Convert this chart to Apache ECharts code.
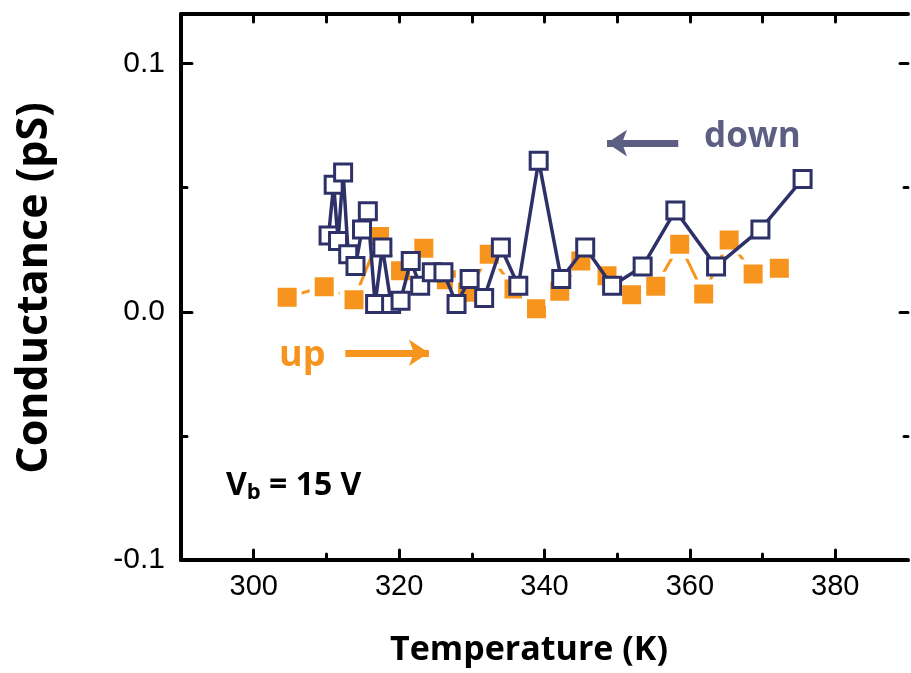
<!DOCTYPE html>
<html>
<head>
<meta charset="utf-8">
<script src="https://cdn.jsdelivr.net/npm/echarts@6/dist/echarts.min.js"></script>
<style>
  html, body { margin: 0; padding: 0; background: #fff; }
  #chart { width: 911px; height: 673px; }
</style>
</head>
<body>
<div id="chart"></div>
<script>
// heating sweep (orange, filled squares)
const upTemp = [304.6, 309.7, 313.8, 317.3, 320.2, 323.4, 326.5, 329.4, 332.4, 335.8, 338.9,
  342.1, 345.0, 348.6, 352.0, 355.3, 358.6, 361.9, 365.4, 368.7, 372.3];
const upCond = [0.0059, 0.0101, 0.0049, 0.0303, 0.0165, 0.0256, 0.0129, 0.0079, 0.0232, 0.0092, 0.0012,
  0.0083, 0.0205, 0.0145, 0.0069, 0.0103, 0.0272, 0.0072, 0.0289, 0.0152, 0.0176];

// cooling sweep (navy, open squares)
const downTemp = [310.3, 311.0, 311.6, 312.3, 313.0, 314.0, 314.9, 315.7, 316.7, 317.7, 318.9,
  320.2, 321.6, 322.9, 324.5, 326.1, 327.9, 329.7, 331.7, 334.0, 336.4, 339.2,
  342.3, 345.6, 349.3, 353.5, 358.0, 363.6, 369.7, 375.5];
const downCond = [0.0308, 0.0512, 0.0285, 0.0561, 0.0232, 0.0185, 0.0332, 0.0405, 0.0032, 0.0259, 0.0032,
  0.0045, 0.0205, 0.0105, 0.0159, 0.0159, 0.0032, 0.0132, 0.0056, 0.0259, 0.0105, 0.0609,
  0.0132, 0.0259, 0.0105, 0.0183, 0.0408, 0.0183, 0.0332, 0.0535];

const xMajorTicks = [300, 320, 340, 360, 380];
const xMinorTicks = [310, 330, 350, 370];
const xTopTicks = [300, 310, 320, 330, 340, 350, 360, 370, 380];
const yMajorTicks = [-0.1, 0, 0.1];
const yMinorTicks = [-0.05, 0.05];

const ORANGE = '#f7941d';
const NAVY = '#2e3168';
const SLATE = '#5c5f82';

const chart = echarts.init(document.getElementById('chart'));

const upData = upTemp.map((t, i) => [t, upCond[i]]);
const downData = downTemp.map((t, i) => [t, downCond[i]]);

const tickLine = { color: '#000', width: 3, cap: 'round' };
const near = (v, list) => list.some(t => Math.abs(t - v) < 1e-6);

// one axis that only carries ticks at given values
function tickAxis(pos, min, max, values, len) {
  return {
    type: 'value', min: min, max: max, position: pos,
    splitLine: { show: false },
    axisLine: { show: false, onZero: false },
    axisTick: { show: true, inside: true, length: len, customValues: values, lineStyle: tickLine },
    axisLabel: { show: false }
  };
}

const option = {
  animation: false,
  grid: { left: 181, right: -8, top: 14, bottom: 113, containLabel: false },
  xAxis: [
    {
      // labels only: every 10 K from 290, text kept at the major ticks
      type: 'value', min: 290, max: 390, interval: 10, position: 'bottom',
      splitLine: { show: false },
      axisLine: { show: true, onZero: false, lineStyle: { color: '#000', width: 4 } },
      axisTick: { show: false },
      axisLabel: {
        margin: 12,
        fontFamily: '"Liberation Sans Narrow", "Liberation Sans", Arial, sans-serif',
        fontSize: 29, color: '#000',
        formatter: v => near(v, xMajorTicks) ? String(v) : ''
      }
    },
    tickAxis('bottom', 290, 390, xMajorTicks, 10),
    tickAxis('bottom', 290, 390, xMinorTicks, 6),
    {
      type: 'value', min: 290, max: 390, position: 'top',
      splitLine: { show: false },
      axisLine: { show: true, onZero: false, lineStyle: { color: '#000', width: 4 } },
      axisTick: { show: true, inside: true, length: 8, customValues: xTopTicks, lineStyle: tickLine },
      axisLabel: { show: false }
    }
  ],
  yAxis: [
    {
      type: 'value', min: -0.1, max: 0.12, interval: 0.05, position: 'left',
      splitLine: { show: false },
      axisLine: { show: true, onZero: false, lineStyle: { color: '#000', width: 4 } },
      axisTick: { show: false },
      axisLabel: {
        margin: 16,
        fontFamily: '"Liberation Sans", Arial, sans-serif',
        fontSize: 30, color: '#000',
        showMaxLabel: false,
        formatter: v => near(v, yMajorTicks) ? v.toFixed(1) : ''
      }
    },
    tickAxis('left', -0.1, 0.12, yMajorTicks, 11),
    tickAxis('left', -0.1, 0.12, yMinorTicks, 6),
    tickAxis('right', -0.1, 0.12, yMajorTicks, 8),
    tickAxis('right', -0.1, 0.12, yMinorTicks, 4)
  ],
  series: [
    {
      // orange line, broken near the markers by the white rim of the squares
      name: 'up', type: 'line', data: upData,
      symbol: 'rect', symbolSize: 24,
      itemStyle: { color: ORANGE, borderColor: '#fff', borderWidth: 5 },
      lineStyle: { color: ORANGE, width: 3 },
      z: 2,
      markLine: {
        silent: true,
        symbol: ['none', 'arrow'], symbolSize: [20, 20],
        lineStyle: { color: ORANGE, width: 7, type: 'solid' },
        label: { show: false },
        data: [[{ coord: [312.6, -0.0165] }, { coord: [324.1, -0.0165] }]]
      }
    },
    {
      name: 'down', type: 'line', data: downData,
      symbol: 'rect', symbolSize: 17,
      itemStyle: { color: '#fff', borderColor: NAVY, borderWidth: 3 },
      lineStyle: { color: NAVY, width: 3.5 },
      z: 3,
      markLine: {
        silent: true,
        symbol: ['none', 'arrow'], symbolSize: [20, 20],
        lineStyle: { color: SLATE, width: 7, type: 'solid' },
        label: { show: false },
        data: [[{ coord: [358.4, 0.068] }, { coord: [348.6, 0.068] }]]
      }
    }
  ],
  graphic: [
    { type: 'text', left: 704, top: 120,
      style: { text: 'down', font: 'bold 35px "Open Sans"', fill: SLATE } },
    { type: 'text', left: 279, top: 338,
      style: { text: 'up', font: 'bold 36px "Open Sans"', fill: ORANGE } },
    { type: 'text', left: 226, top: 470,
      style: {
        text: '{v|V}{s|b}{v| = 15 V}',
        rich: {
          v: { font: 'bold 32px "Open Sans"', fill: '#000', verticalAlign: 'bottom' },
          s: { font: 'bold 22px "Open Sans"', fill: '#000', padding: [0, 0, -14, 0] }
        }
      } },
    { type: 'text', x: 529, y: 650,
      style: { text: 'Temperature (K)', font: 'bold 34px "Open Sans"', fill: '#000',
        align: 'center', verticalAlign: 'middle' } },
    { type: 'text', x: 35, y: 288, rotation: Math.PI / 2,
      style: { text: 'Conductance (pS)', font: 'bold 43px "Open Sans"', fill: '#000',
        align: 'center', verticalAlign: 'middle' } }
  ]
};

chart.setOption(option);
</script>
</body>
</html>
